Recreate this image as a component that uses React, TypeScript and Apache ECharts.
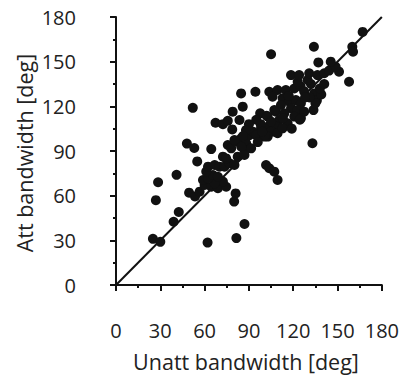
import React, { useEffect, useRef } from "react";
import * as echarts from "echarts";

// Unattended bandwidth (x) and attended bandwidth (y), degrees
const unattBandwidth: number[] = [
  25, 30, 27, 28.5, 39, 42.5, 41, 48, 53, 52, 55, 49.5, 53.5, 62, 81.5, 87, 81, 80,
  64.5, 56.6, 60, 64.5, 69, 74.6, 72.4, 66.8, 58.9, 62.3, 65.6, 69, 61.1, 62.3, 66.8, 70,
  73.5, 76.9, 80.2, 72.4, 74.6, 82.4, 75.7, 78, 81.4, 84.8, 88.1, 87, 91.5, 90.4, 92.6, 98.2,
  102.7, 107.2, 110.6, 101.6, 103.8, 107.2, 109.4, 79, 85.8, 83.6, 67.4, 72.4, 75.7, 78.7, 84.7, 94.4,
  97.6, 102, 108.3, 105, 133, 103.8, 109.4, 106, 115, 120.7, 125, 127.4, 134.2, 132, 129.7, 123,
  118.5, 124, 130.8, 136.4, 141, 144.3, 151, 148.7, 145.4, 137, 134, 157.8, 160, 160.5, 167, 112.8,
  117.3, 121.8, 125.2, 111.7, 118.5, 122.9, 127.4, 114, 120.7, 125.2, 110.6, 116.2, 108.3, 104.9, 102.7, 109.4,
  112.8, 107.2, 102.7, 133.7, 124.5, 94.9, 100.5, 105, 98, 95, 90, 88, 86, 84.8, 87, 80.2,
  136, 139, 138, 141, 135, 131, 128, 117, 113, 119, 96, 99,
];
const attBandwidth: number[] = [
  31, 29, 57, 69, 42.5, 49, 74, 95, 92, 119, 83, 62, 59.5, 28.5, 31.5, 41, 61.5, 56,
  91.3, 62.7, 67.2, 66, 65, 66, 69.5, 68.3, 70.5, 71.7, 73.9, 72.7, 76.2, 79.5, 80.6, 79.5,
  79.5, 81.7, 80.6, 86.2, 85, 86.2, 94, 91.8, 96.3, 98.5, 95.2, 90.7, 91.8, 100.7, 103, 105.2,
  106.3, 103, 105.2, 80.6, 78.4, 76.1, 70.5, 116.4, 119.8, 110.8, 109, 108, 110.3, 104.5, 128.7, 129.8,
  115.3, 113.7, 116.4, 155, 95.2, 129.8, 131, 126.5, 131, 132, 133.4, 130, 128.7, 135, 137.7, 136.5,
  141, 141, 142.2, 141, 142.2, 144, 143.3, 146.6, 150, 149.5, 160, 136.5, 160, 156.7, 170, 125.4,
  123.1, 124.2, 122, 120.9, 118.7, 117.5, 116.4, 115.3, 113.1, 112, 110.8, 108.6, 106.3, 103, 99.7, 101.9,
  105.2, 117.5, 113.1, 117.5, 111, 100.7, 99.7, 109.7, 108, 111, 108, 104, 100, 92.9, 87.3, 97.4,
  124, 128, 132, 135, 122, 126, 126, 127, 112, 105, 96, 103,
];
const identityLine: number[][] = [
  [0, 0],
  [180, 180],
];
const axisMin = 0;
const axisMax = 180;
const axisInterval = 30;
const xTitle = "Unatt bandwidth [deg]";
const yTitle = "Att bandwidth [deg]";

const FONT = "'Open Sans', 'Noto Sans', sans-serif";
const TEXT_COLOR = "#222";
const INK = "#111";

export default function App() {
  const ref = useRef<HTMLDivElement>(null);
  useEffect(() => {
    if (!ref.current) return;
    const chart = echarts.init(ref.current, undefined, { renderer: "svg" });
    const points = unattBandwidth.map((x, i) => [x, attBandwidth[i]]);
    const axisCommon = {
      type: "value" as const,
      min: axisMin,
      max: axisMax,
      interval: axisInterval,
      splitLine: { show: false },
      axisLine: { show: true, lineStyle: { color: INK, width: 2 } },
      axisTick: { show: true, inside: false, length: 6, lineStyle: { color: INK, width: 2 } },
      minorTick: { show: true, splitNumber: 2, length: 3, lineStyle: { color: INK, width: 2 } },
      axisLabel: { color: TEXT_COLOR, fontSize: 20, fontFamily: FONT },
    };
    chart.setOption({
      animation: false,
      backgroundColor: "#ffffff",
      grid: { left: 116, top: 17, width: 267, height: 268, containLabel: false },
      xAxis: {
        ...axisCommon,
        offset: 13,
        axisLabel: { ...axisCommon.axisLabel, margin: 22 },
      },
      yAxis: {
        ...axisCommon,
        offset: 14,
        axisLabel: { ...axisCommon.axisLabel, margin: 26 },
      },
      graphic: [
        {
          type: "text",
          x: 246,
          y: 361,
          style: {
            text: xTitle,
            fill: TEXT_COLOR,
            font: `21.5px ${FONT}`,
            textAlign: "center",
            textVerticalAlign: "middle",
          },
        },
        {
          type: "text",
          x: 24,
          y: 153,
          rotation: Math.PI / 2,
          style: {
            text: yTitle,
            fill: TEXT_COLOR,
            font: `21.5px ${FONT}`,
            textAlign: "center",
            textVerticalAlign: "middle",
          },
        },
      ],
      series: [
        {
          type: "line",
          data: identityLine,
          symbol: "none",
          lineStyle: { color: INK, width: 2 },
          z: 1,
        },
        {
          type: "scatter",
          data: points,
          symbol: "circle",
          symbolSize: 10,
          itemStyle: { color: INK, opacity: 1 },
          z: 2,
        },
      ],
    });
    return () => chart.dispose();
  }, []);
  return (
    <div
      ref={ref}
      style={{ position: "absolute", left: 0, top: 0, width: 402, height: 378 }}
    />
  );
}
